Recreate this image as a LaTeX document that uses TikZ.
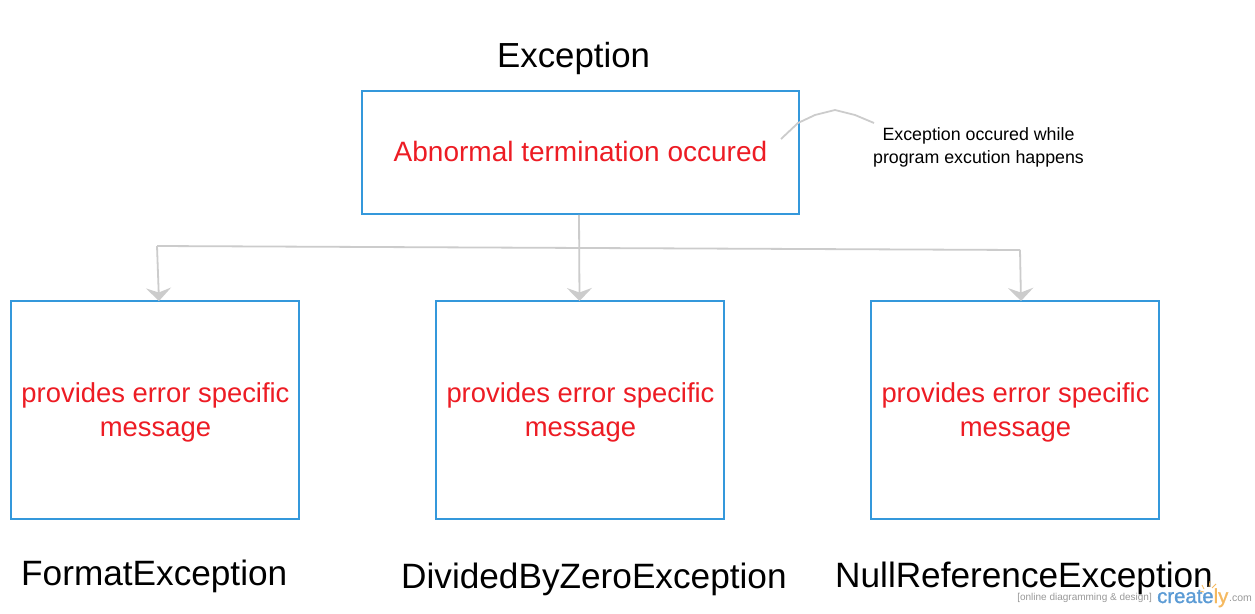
\documentclass[tikz,border=0pt]{standalone}
\usepackage{fontspec}
\setmainfont{Liberation Sans}
\newfontfamily\logofont[FakeBold=1.2]{Liberation Sans}
\usetikzlibrary{arrows.meta}
\definecolor{boxblue}{HTML}{3498DB}
\definecolor{linegrey}{HTML}{CCCCCC}
\definecolor{errred}{HTML}{ED1C24}
\definecolor{logoblue}{HTML}{5B9BD5}
\definecolor{logoorange}{HTML}{F5B95F}
\definecolor{wmgrey}{HTML}{999999}
\newcommand{\fs}[1]{\fontsize{#1}{#1}\selectfont}
\tikzset{
  x=1pt,y=-1pt,
  boxa/.style={draw=boxblue,line width=1.8pt,inner sep=0pt,outer sep=0pt},
  msg/.style={text=errred,align=center,font=\fs{27.4}},
  lbl/.style={text=black,anchor=base west,inner sep=0pt,font=\fs{35.2}},
  conn/.style={draw=linegrey,line width=1.8pt},
  arr/.style={conn,-{Stealth[length=13pt,width=25pt,inset=4.5pt,fill=linegrey]}},
}
\begin{document}
\begin{tikzpicture}
\useasboundingbox (0,0) rectangle (1255,613);
\fill[white] (0,0) rectangle (1255,613);
% boxes
\node[boxa,minimum width=437pt,minimum height=123pt] (top) at (580.5,152.5) {};
\node[boxa,minimum width=288pt,minimum height=218pt] (b1) at (155,410) {};
\node[boxa,minimum width=288pt,minimum height=218pt] (b2) at (580,410) {};
\node[boxa,minimum width=288pt,minimum height=218pt] (b3) at (1015,410) {};
% box texts
\node[msg,font=\fs{28}] (t0) at (580.5,151.5) {Abnormal termination occured};
\node[msg] (t1) at (155.5,412.5) {provides error specific\\[7pt]message};
\node[msg] (t2) at (580.5,412.5) {provides error specific\\[7pt]message};
\node[msg] (t3) at (1015.5,412.5) {provides error specific\\[7pt]message};
% labels
\node[lbl,font=\fs{34.8}] (l0) at (497,67) {Exception};
\node[lbl] (l1) at (21,585) {FormatException};
\node[lbl] (l2) at (401,588) {DividedByZeroException};
\node[lbl] (l3) at (835,587) {NullReferenceException};
% note
\node[text=black,align=center,font=\fs{17.8}] (note) at (978.5,147.5) {Exception occured while\\[5pt]program excution happens};
\coordinate (c1) at (781,139);
\coordinate (c2) at (798,123);
\coordinate (c3) at (815,115);
\coordinate (c4) at (835,110);
\coordinate (c5) at (855,115);
\coordinate (c6) at (874,123);
\draw[conn] (c1)--(c2)--(c3)--(c4)--(c5)--(c6);
% connectors
\coordinate (jl) at (157,246);
\coordinate (jr) at (1020,250);
\draw[arr] (579,214.8) -- (b2.north -| 579.5,0);
\draw[conn] (jl) -- (jr);
\draw[arr] (jl) -- (159,301);
\draw[arr] (jr) -- (1021,301);
% watermark
\node[text=wmgrey,anchor=base east,inner sep=0pt,font=\fs{10}] (wm) at (1152,600.5) {[online diagramming \& design]};
\node[text=logoblue,anchor=base west,inner sep=0pt,font=\logofont\fs{20.3}] (cr) at (1157,603) {create\textcolor{logoorange}{ly}};
\node[text=wmgrey,anchor=base west,inner sep=0pt,font=\fs{10.5}] (com) at (1229,601) {.com};
\draw[draw=logoorange,line width=0.8pt] (1202,585)--(1204,589) (1210,581)--(1209,587) (1216,584)--(1212,588) (1200,591)--(1204,592);
\end{tikzpicture}
\end{document}
